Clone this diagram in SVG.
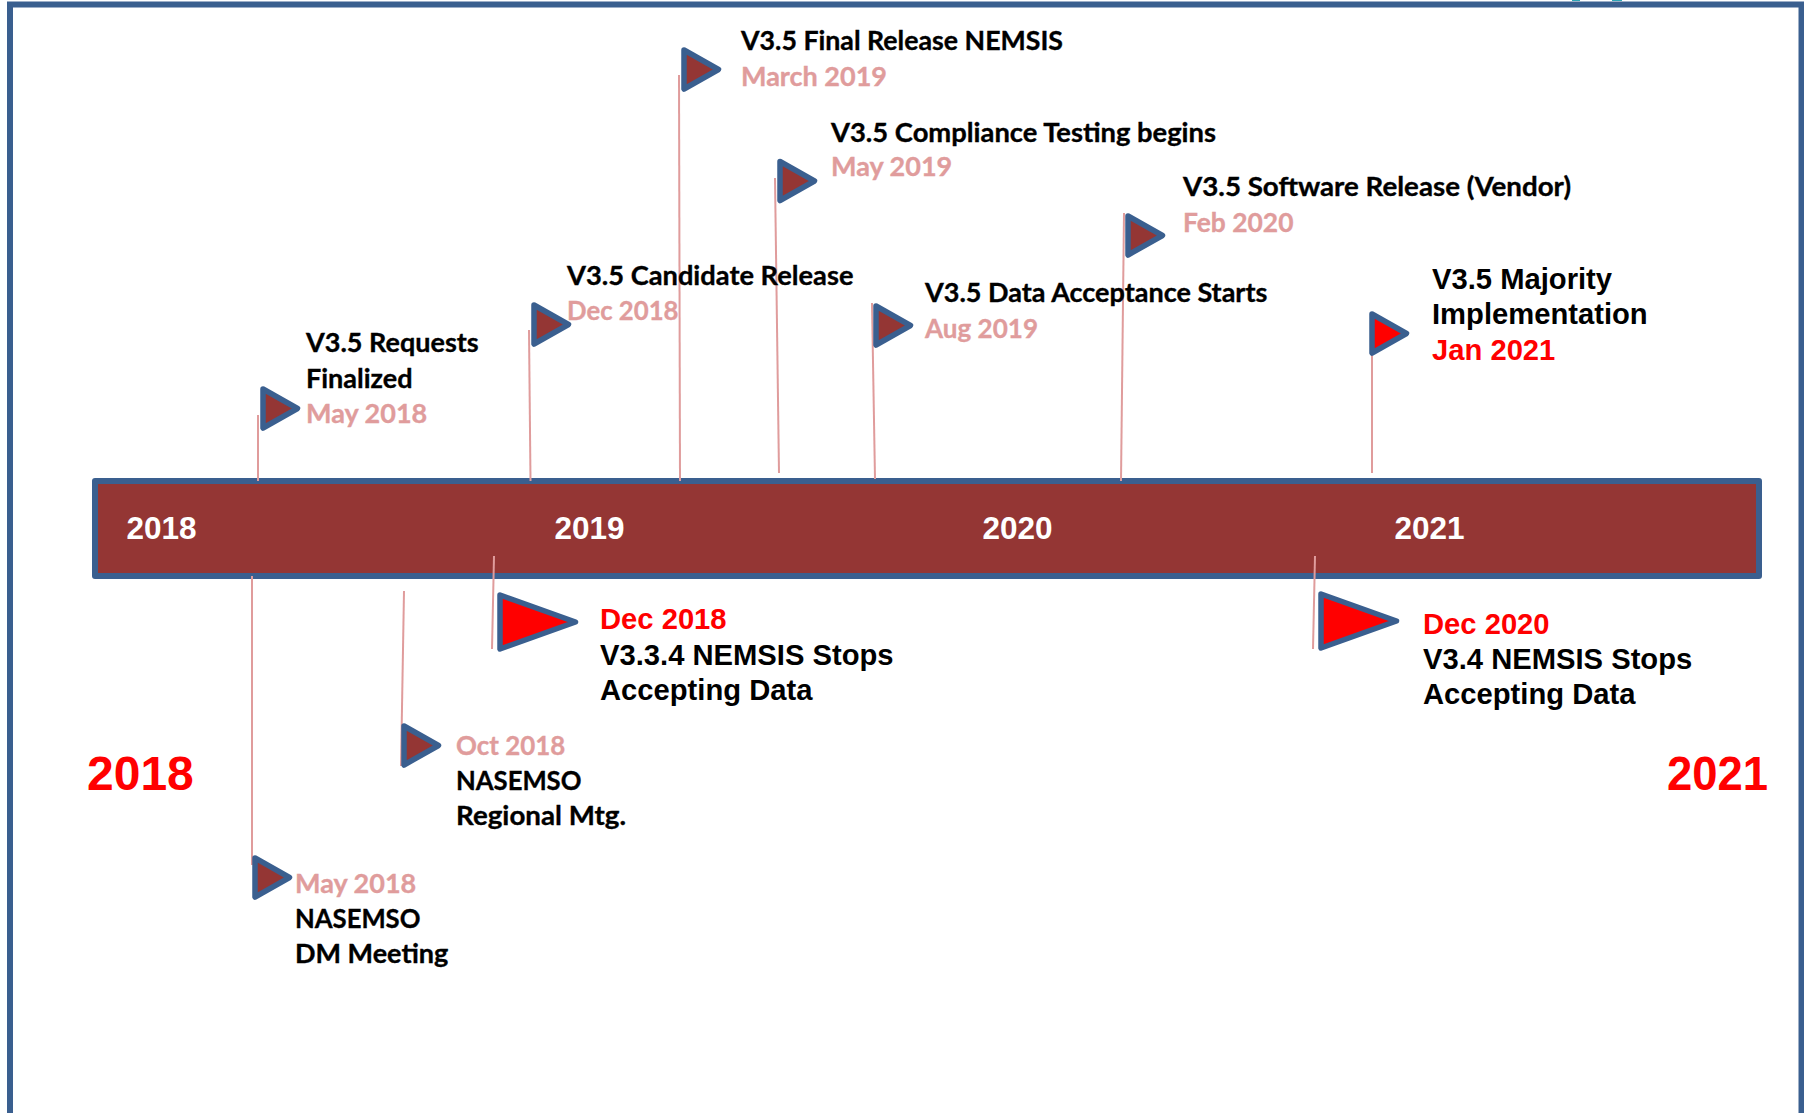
<svg xmlns="http://www.w3.org/2000/svg" width="1804" height="1113" viewBox="0 0 1804 1113">
<style>
.c{fill:none;stroke:#e09c9c;stroke-width:2}
.f{stroke:#3a5f8f;stroke-width:5.5;stroke-linejoin:round}
.m{fill:#943634}.r{fill:#ff0000}
.t{font-family:Lato,"Liberation Sans",sans-serif;font-weight:700;font-size:27px;fill:#000;stroke:#000;stroke-width:.35}
.t.d{fill:#e09c9c;stroke:#e09c9c}
.a{font-family:"Liberation Sans",Arial,sans-serif;font-weight:700;font-size:29.2px;fill:#000}
.a.ar{fill:#ff0000}
.y{font-family:"Liberation Sans",Arial,sans-serif;font-weight:700;font-size:31.5px;fill:#fff}
.big{font-family:"Liberation Sans",Arial,sans-serif;font-weight:700;font-size:48px;fill:#ff0000}
</style>
<defs>
<polygon id="fl" points="3,3 37.500,22.500 3,42"/>
<polygon id="flb" points="3,3 78.500,30 3,57"/>
</defs>
<rect id="frame" x="10" y="4.500" width="1791.500" height="1120" fill="#fff" stroke="#3a5f8f" stroke-width="6"/>
<path id="top-fragments" d="M1572 .5h8M1612 .5h10" fill="none" stroke="#2fa5b5" stroke-width="1"/>
<g id="bar"><rect x="95" y="481" width="1664" height="95" fill="#943634" stroke="#3a5f8f" stroke-width="6" stroke-linejoin="round"/>
<text class="y" x="126.500" y="539">2018</text><text class="y" x="554.500" y="539">2019</text><text class="y" x="982.500" y="539">2020</text><text class="y" x="1394.500" y="539">2021</text></g>
<g id="connectors">
<path class="c" d="M258 415V481"/><path class="c" d="M529 330L530.500 481"/><path class="c" d="M679 75L680 481"/><path class="c" d="M775 178L779 473"/><path class="c" d="M872 303L875 479"/><path class="c" d="M1124 213L1121 481"/><path class="c" d="M1372 345V473"/>
<path class="c" d="M252 576V865"/><path class="c" d="M404 591L401 766"/><path class="c" d="M494 556L492 649"/><path class="c" d="M1315 556L1313 649"/>
</g>
<g id="n1"><use href="#fl" x="260" y="386" class="f m"/><text class="t" x="306" y="352">V3.5 Requests</text><text class="t" x="306" y="388">Finalized</text><text class="t d" x="306" y="423">May 2018</text></g>
<g id="n2"><use href="#fl" x="531" y="302" class="f m"/><text class="t" x="567" y="285" textLength="286.500" lengthAdjust="spacingAndGlyphs">V3.5 Candidate Release</text><text class="t d" x="567" y="320" textLength="111.500" lengthAdjust="spacingAndGlyphs">Dec 2018</text></g>
<g id="n3"><use href="#fl" x="681" y="47" class="f m"/><text class="t" x="741" y="50" textLength="322" lengthAdjust="spacingAndGlyphs">V3.5 Final Release NEMSIS</text><text class="t d" x="741" y="86">March 2019</text></g>
<g id="n4"><use href="#fl" x="777" y="158.500" class="f m"/><text class="t" x="831" y="142" textLength="385" lengthAdjust="spacingAndGlyphs">V3.5 Compliance Testing begins</text><text class="t d" x="831" y="176">May 2019</text></g>
<g id="n5"><use href="#fl" x="873" y="303" class="f m"/><text class="t" x="925" y="302">V3.5 Data Acceptance Starts</text><text class="t d" x="925" y="338" textLength="113" lengthAdjust="spacingAndGlyphs">Aug 2019</text></g>
<g id="n6"><use href="#fl" x="1125" y="213" class="f m"/><text class="t" x="1183" y="196" textLength="388" lengthAdjust="spacingAndGlyphs">V3.5 Software Release (Vendor)</text><text class="t d" x="1183" y="232" textLength="110.500" lengthAdjust="spacingAndGlyphs">Feb 2020</text></g>
<g id="n7"><use href="#fl" x="1369" y="311" class="f r"/><text class="a" x="1432" y="289">V3.5 Majority</text><text class="a" x="1432" y="324">Implementation</text><text class="a ar" x="1432" y="360">Jan 2021</text></g>
<g id="n8"><use href="#flb" x="497" y="592" class="f r"/><text class="a ar" x="600" y="629">Dec 2018</text><text class="a" x="600" y="665">V3.3.4 NEMSIS Stops</text><text class="a" x="600" y="700">Accepting Data</text></g>
<g id="n9"><use href="#flb" x="1318" y="591" class="f r"/><text class="a ar" x="1423" y="634">Dec 2020</text><text class="a" x="1423" y="669">V3.4 NEMSIS Stops</text><text class="a" x="1423" y="704">Accepting Data</text></g>
<g id="n10"><use href="#fl" x="401" y="723" class="f m"/><text class="t d" x="456" y="755" textLength="109.300" lengthAdjust="spacingAndGlyphs">Oct 2018</text><text class="t" x="456" y="790" textLength="125.400" lengthAdjust="spacingAndGlyphs">NASEMSO</text><text class="t" x="456" y="825" textLength="170" lengthAdjust="spacingAndGlyphs">Regional Mtg.</text></g>
<g id="n11"><use href="#fl" x="252" y="855" class="f m"/><text class="t d" x="295" y="893">May 2018</text><text class="t" x="295" y="928" textLength="125.400" lengthAdjust="spacingAndGlyphs">NASEMSO</text><text class="t" x="295" y="963">DM Meeting</text></g>
<text class="big" x="87" y="790">2018</text><text class="big" x="1667" y="790" textLength="101" lengthAdjust="spacingAndGlyphs">2021</text>
</svg>
